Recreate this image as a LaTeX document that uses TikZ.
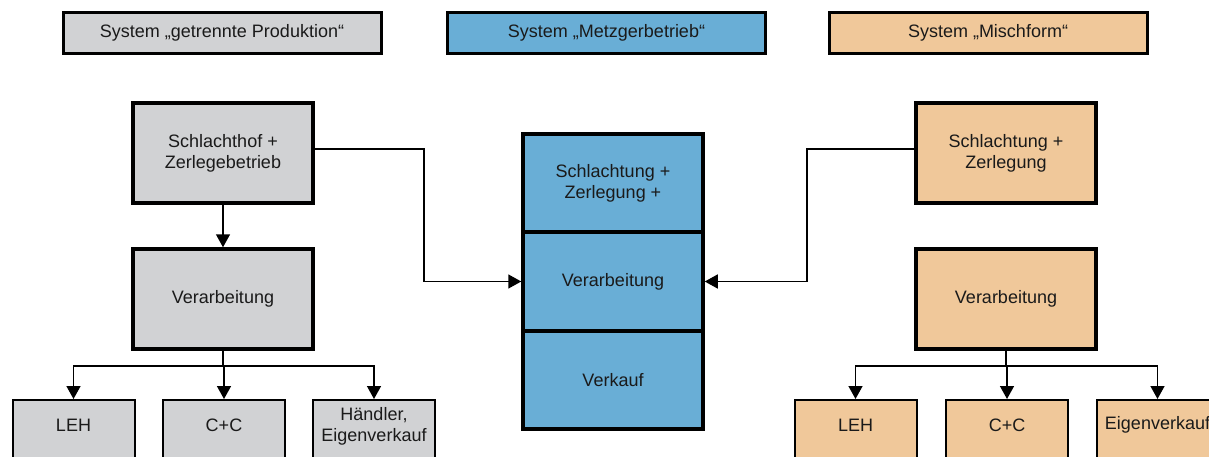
\documentclass[tikz,border=0pt]{standalone}
\usepackage{fontspec}
\setmainfont{Liberation Sans}
\usetikzlibrary{arrows.meta}
\definecolor{greybox}{HTML}{D1D2D4}
\definecolor{bluebox}{HTML}{69AED6}
\definecolor{tanbox}{HTML}{F0C89A}
\definecolor{ink}{HTML}{1A1A1A}

\begin{document}
\begin{tikzpicture}[x=1pt,y=-1pt,
  font=\fontsize{18}{21}\selectfont, text=ink,
  titlebox/.style={draw=black, line width=3pt, minimum width=318pt, minimum height=41pt, inner sep=0pt},
  mainbox/.style={draw=black, line width=3.5pt, minimum width=180pt, minimum height=100pt, align=center, inner sep=0pt},
  cellbox/.style={draw=black, line width=3.5pt, fill=bluebox, minimum width=180pt, minimum height=98.3pt, align=center, inner sep=0pt},
  botbox/.style={draw=black, line width=2pt, minimum width=122pt, minimum height=90pt, inner sep=0pt, anchor=north},
  bottext/.style={align=center, inner sep=0pt},
  conn/.style={draw=black, line width=1.5pt, -{Triangle[length=13pt,width=14pt]}},
  plain/.style={draw=black, line width=1.5pt}]

\useasboundingbox (0,0) rectangle (1209,457);
\clip (0,0) rectangle (1209,457);

% system titles
\node[titlebox, fill=greybox] (tgetrennt) at (222,33) {System „getrennte Produktion“};
\node[titlebox, fill=bluebox] (tmetzger) at (606.5,33) {System „Metzgerbetrieb“};
\node[titlebox, fill=tanbox] (tmisch) at (988,33) {System „Mischform“};

% separate production
\node[mainbox, fill=greybox] (lschlacht) at (223,153) {Schlachthof +\\Zerlegebetrieb};
\node[mainbox, fill=greybox] (lverarb) at (223,299) {Verarbeitung};
\node[botbox, fill=greybox] (lleh) at (73.5,399) {};
\node[botbox, fill=greybox] (lcc) at (224,399) {};
\node[botbox, fill=greybox] (lhaendler) at (374,399) {};
\node[bottext] (llehtxt) at ([yshift=-26pt]lleh.north) {LEH};
\node[bottext] (lcctxt) at ([yshift=-26pt]lcc.north) {C+C};
\node[bottext] (lhaendlertxt) at ([yshift=-27pt]lhaendler.north) {Händler,\\Eigenverkauf};

% butcher shop
\node[cellbox] (mschlacht) at (613,183) {Schlachtung +\\Zerlegung +};
\node[cellbox] (mverarb) at (613,281.5) {Verarbeitung};
\node[cellbox] (mverkauf) at (613,380) {Verkauf};

% mixed form
\node[mainbox, fill=tanbox] (rschlacht) at (1006,153) {Schlachtung +\\Zerlegung};
\node[mainbox, fill=tanbox] (rverarb) at (1006,299) {Verarbeitung};
\node[botbox, fill=tanbox] (rleh) at (855.5,399) {};
\node[botbox, fill=tanbox] (rcc) at (1007,399) {};
\node[botbox, fill=tanbox] (reigen) at (1157.5,399) {};
\node[bottext] (rlehtxt) at ([yshift=-26pt]rleh.north) {LEH};
\node[bottext] (rcctxt) at ([yshift=-26pt]rcc.north) {C+C};
\node[bottext] (reigentxt) at ([yshift=-26pt]reigen.north) {Eigenverkauf};

% connectors, left column
\draw[conn] (lschlacht.south) -- (lverarb.north);
\coordinate (lbranch) at (223,366);
\draw[plain] (lverarb.south) -- (lbranch);
\draw[conn] (lbranch) -| (lleh.north);
\draw[conn] (lbranch) -| (lcc.north);
\draw[conn] (lbranch) -| (lhaendler.north);
\coordinate (lbend) at (424,149);
\draw[conn] ([yshift=4pt]lschlacht.east) -- (lbend) |- (mverarb.west);

% connectors, right column
\coordinate (rbranch) at (1006,366);
\draw[plain] (rverarb.south) -- (rbranch);
\draw[conn] (rbranch) -| (rleh.north);
\draw[conn] (rbranch) -| (rcc.north);
\draw[conn] (rbranch) -| (reigen.north);
\coordinate (rbend) at (807,149);
\draw[conn] ([yshift=4pt]rschlacht.west) -- (rbend) |- (mverarb.east);
\end{tikzpicture}
\end{document}
